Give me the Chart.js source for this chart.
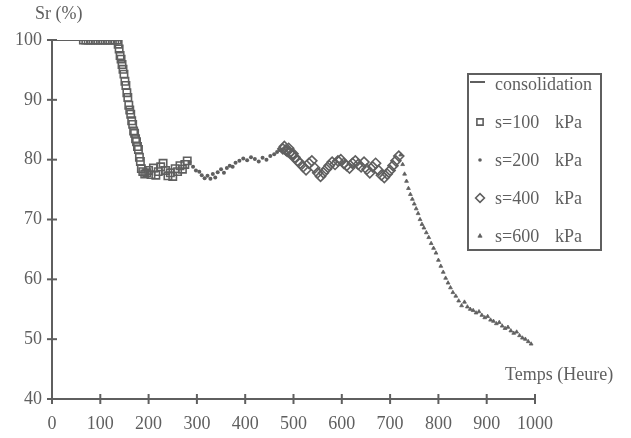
<!DOCTYPE html>
<html>
<head>
<meta charset="utf-8">
<script src="https://cdn.jsdelivr.net/npm/chart.js@4/dist/chart.umd.min.js"></script>
<style>
    body { margin: 0; background: #fff; }
    canvas { display: block; }
</style>
</head>
<body>
<canvas id="srChart" width="631" height="438"></canvas>
<script>
// Degré de saturation Sr (%) en fonction du temps (heures)
const consolidationX = [0, 135];
const consolidationY = [100, 100];

const s100X = [65, 70, 75, 80, 85, 90, 95, 100, 105, 110, 115, 120, 125, 130, 135,
    137, 139, 141, 143, 145, 147, 149, 151, 153, 155, 157, 159, 161, 163, 165, 167, 169, 171, 173, 175, 177, 179, 181, 183, 185,
    188, 192, 196, 200, 205, 210, 215, 220, 225, 230, 235, 240, 245, 250, 255, 260, 265, 270, 275, 280];
const s100Y = [100, 100, 100, 100, 100, 100, 100, 100, 100, 100, 100, 100, 100, 100, 100,
    99.3, 98.5, 97.4, 96.8, 95.9, 95.1, 94.3, 93.1, 92.4, 91.2, 90.4, 89.1, 88.3, 87.6, 86.5, 85.9, 84.8, 84.4, 83.5, 83.0, 82.2, 81.7, 80.4, 79.7, 78.5,
    78.0, 77.6, 77.8, 78.2, 77.5, 78.6, 77.4, 78.0, 78.8, 79.4, 78.2, 77.3, 77.8, 77.2, 78.5, 78.0, 79.0, 78.4, 79.2, 79.8];

const s200X = [285, 292, 298, 305, 310, 316, 322, 328, 333, 338, 343, 350, 356, 362, 368, 374, 380, 388, 396, 404, 412, 420, 428, 436, 444, 452, 460, 466, 472];
const s200Y = [79.6, 78.8, 78.2, 78.0, 77.4, 76.9, 77.3, 76.8, 77.6, 77.0, 77.9, 78.4, 77.8, 78.6, 79.0, 78.8, 79.5, 79.8, 80.2, 79.9, 80.4, 80.1, 79.7, 80.3, 80.0, 80.6, 80.9, 81.3, 81.6];

const s400X = [478, 481, 484, 487, 490, 493, 496, 499, 503, 508, 514, 520, 526, 532, 538, 544, 550, 556, 562, 568, 574, 580, 586, 592,
    598, 604, 610, 616, 622, 628, 634, 640, 646, 652, 658, 664, 670, 676, 682, 688, 694, 700, 706, 712, 718];
const s400Y = [81.8, 82.2, 81.6, 81.4, 81.9, 81.2, 80.8, 81.0, 80.4, 79.8, 79.4, 78.8, 78.3, 79.4, 79.8, 78.6, 77.8, 77.2, 77.8, 78.4, 79.0, 79.6, 79.2, 79.8,
    80.0, 79.4, 79.0, 78.6, 79.4, 79.8, 79.2, 78.8, 79.6, 78.4, 77.8, 78.8, 79.4, 78.2, 77.4, 77.0, 77.6, 78.2, 79.0, 79.8, 80.6];

const s600X = [722, 726, 730, 734, 738, 742, 746, 750, 754, 758, 762, 766, 770, 775, 780, 785, 790, 795, 800, 805, 810, 815, 820, 825, 830,
    836, 842, 848, 854, 860, 866, 872, 878, 884, 890, 896, 902, 908, 914, 920, 926, 932, 938, 944, 950, 956, 962, 968, 974, 980, 986, 992];
const s600Y = [80.8, 79.2, 77.6, 76.4, 75.2, 74.2, 73.4, 72.6, 71.8, 71.0, 70.0, 69.2, 68.6, 67.8, 67.0, 66.0, 65.2, 64.4, 63.2, 62.2, 61.2, 60.2, 59.4, 58.6, 57.8,
    57.2, 56.4, 55.6, 56.2, 55.4, 55.0, 54.8, 54.4, 54.6, 54.0, 53.6, 53.8, 53.2, 53.0, 52.6, 52.8, 52.2, 51.8, 52.0, 51.4, 51.0, 51.2, 50.6, 50.2, 50.0, 49.6, 49.2];

const xTicks = [0, 100, 200, 300, 400, 500, 600, 700, 800, 900, 1000];
const yTicks = [40, 50, 60, 70, 80, 90, 100];

const legendLabels = ['consolidation', 's=100', 's=200', 's=400', 's=600'];
const legendUnit = 'kPa';

const INK = '#5f5f5f';
const FONT = "'Liberation Serif', 'Times New Roman', serif";

const toPoints = (xs, ys) => xs.map((x, i) => ({ x, y: ys[i] }));

const datasets = [
    {
        label: legendLabels[0],
        data: toPoints(consolidationX, consolidationY),
        showLine: true,
        borderColor: INK,
        borderWidth: 2,
        pointRadius: 0
    },
    {
        label: legendLabels[1],
        data: toPoints(s100X, s100Y),
        pointStyle: 'rect',
        pointRadius: 5.2,
        borderColor: INK,
        borderWidth: 1.6,
        backgroundColor: 'rgba(255,255,255,0)'
    },
    {
        label: legendLabels[2],
        data: toPoints(s200X, s200Y),
        pointStyle: 'circle',
        pointRadius: 2,
        borderWidth: 0,
        backgroundColor: INK
    },
    {
        label: legendLabels[3],
        data: toPoints(s400X, s400Y),
        pointStyle: 'rectRot',
        pointRadius: 5,
        borderColor: INK,
        borderWidth: 1.6,
        backgroundColor: 'rgba(255,255,255,0)'
    },
    {
        label: legendLabels[4],
        data: toPoints(s600X, s600Y),
        pointStyle: 'triangle',
        pointRadius: 2.2,
        borderColor: INK,
        borderWidth: 0.8,
        backgroundColor: INK
    }
];

// crossing tick marks + axis titles
const axisDecor = {
    id: 'axisDecor',
    afterDraw(chart) {
        const ctx = chart.ctx;
        const xs = chart.scales.x;
        const ys = chart.scales.y;
        const x0 = xs.getPixelForValue(0);
        const y0 = ys.getPixelForValue(40);
        ctx.save();
        ctx.strokeStyle = INK;
        ctx.lineWidth = 2;
        yTicks.forEach(v => {
            const py = ys.getPixelForValue(v);
            ctx.beginPath();
            ctx.moveTo(x0 - 5, py);
            ctx.lineTo(x0 + 5, py);
            ctx.stroke();
        });
        xTicks.forEach(v => {
            const px = xs.getPixelForValue(v);
            ctx.beginPath();
            ctx.moveTo(px, y0 + 5);
            ctx.lineTo(px, y0 - 5);
            ctx.stroke();
        });

        ctx.fillStyle = INK;
        ctx.font = `18px ${FONT}`;
        ctx.textBaseline = 'middle';
        ctx.textAlign = 'left';
        ctx.fillText('Sr (%)', 35, 14);
        ctx.fillText('Temps (Heure)', 505, 375);
        ctx.restore();
    }
};

// boxed legend inside the plot, drawn with the datasets' own point styles
const boxLegend = {
    id: 'boxLegend',
    afterDraw(chart) {
        const { ctx } = chart;
        const rows = [84, 122, 160, 198, 236];
        ctx.save();
        ctx.strokeStyle = INK;
        ctx.lineWidth = 2;
        ctx.strokeRect(468, 74, 133, 176);

        ctx.fillStyle = INK;
        ctx.font = `18px ${FONT}`;
        ctx.textBaseline = 'middle';
        ctx.textAlign = 'left';

        chart.data.datasets.forEach((ds, i) => {
            const ry = rows[i];
            if (ds.showLine) {
                ctx.beginPath();
                ctx.moveTo(470, ry - 2);
                ctx.lineTo(485, ry - 2);
                ctx.stroke();
                ctx.fillText(ds.label, 495, ry + 1);
            } else {
                ctx.save();
                ctx.strokeStyle = ds.borderColor || INK;
                ctx.fillStyle = ds.backgroundColor;
                ctx.lineWidth = ds.borderWidth || 0;
                Chart.helpers.drawPoint(ctx, {
                    pointStyle: ds.pointStyle,
                    radius: ds.pointStyle === 'circle' ? 1.8 : (ds.pointStyle === 'triangle' ? 2.4 : 4.4),
                    rotation: 0,
                    borderWidth: ds.borderWidth
                }, 480, ry);
                ctx.restore();
                ctx.fillText(ds.label, 495, ry + 1);
                ctx.fillText(legendUnit, 555, ry + 1);
            }
        });
        ctx.restore();
    }
};

const tickFont = { family: FONT, size: 18 };

new Chart(document.getElementById('srChart'), {
    type: 'scatter',
    data: { datasets },
    options: {
        responsive: false,
        animation: false,
        layout: { padding: { top: 40, right: 96, left: 0, bottom: 0 } },
        plugins: {
            legend: { display: false },
            tooltip: { enabled: false }
        },
        scales: {
            x: {
                type: 'linear',
                min: 0,
                max: 1000,
                afterFit: s => { s.height = 39; },
                afterBuildTicks: s => { s.ticks = xTicks.map(v => ({ value: v })); },
                border: { color: INK, width: 2 },
                grid: { display: false, drawTicks: false },
                ticks: { color: INK, font: tickFont, padding: 14, maxRotation: 0, autoSkip: false, callback: v => String(v) }
            },
            y: {
                type: 'linear',
                min: 40,
                max: 100,
                afterFit: s => { s.width = 52; },
                afterBuildTicks: s => { s.ticks = yTicks.map(v => ({ value: v })); },
                border: { color: INK, width: 2 },
                grid: { display: false, drawTicks: false },
                ticks: { color: INK, font: tickFont, padding: 10, callback: v => String(v) }
            }
        }
    },
    plugins: [axisDecor, boxLegend]
});
</script>
</body>
</html>
